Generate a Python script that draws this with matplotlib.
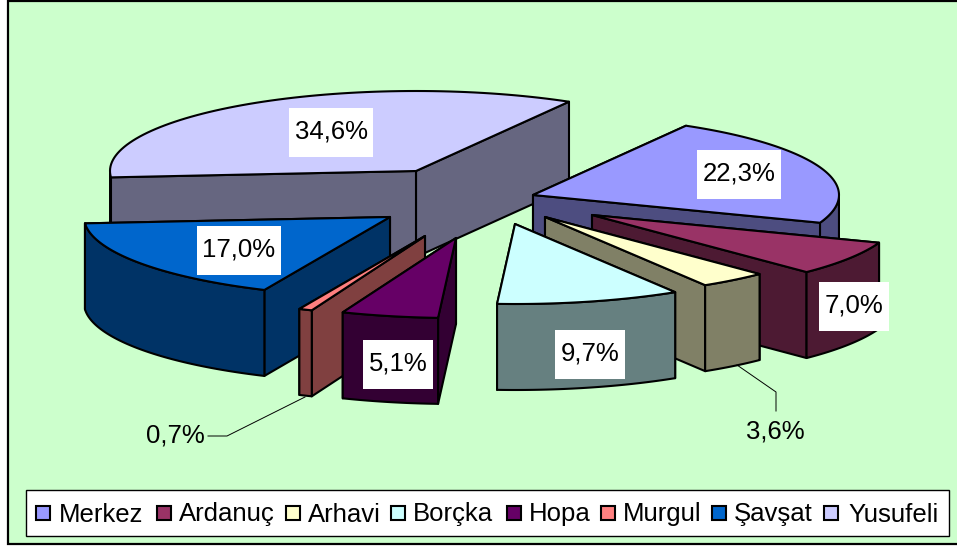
import numpy as np
import matplotlib
matplotlib.use("Agg")
import matplotlib.pyplot as plt
from matplotlib.patches import Polygon, Rectangle

# ---- data ----
categories = ["Merkez", "Ardanuç", "Arhavi", "Borçka", "Hopa", "Murgul", "Şavşat", "Yusufeli"]
values = [22.3, 7.0, 3.6, 9.7, 5.1, 0.7, 17.0, 34.6]
colors = ["#9999FF", "#993366", "#FFFFCC", "#CCFFFF", "#660066", "#FF8080", "#0066CC", "#CCCCFF"]

# ---- layout (pixels) ----
apexes = [(533, 195), (592, 215), (545, 217), (515, 224), (456, 238), (425, 236), (390, 217), (416, 171)]
label_pos = [(739, 174), (854, 306), (775, 431), (590, 354), (398, 364), (175, 435), (239, 250), (331, 132)]
boxed = [True, True, False, True, True, False, True, True]
draw_order = [7, 0, 1, 2, 3, 6, 5, 4]
RX, RY, H = 306, 80, 86
START = 60.0
LW = 1.5
legend_swatch_x = [36, 157, 286, 391, 507, 601, 712, 824]
legend_text_x = [59, 179, 308, 413, 529, 623, 734, 848]

plt.rcParams["font.family"] = ["Liberation Sans", "DejaVu Sans"]
fig = plt.figure(figsize=(9.57, 5.47), dpi=100, facecolor="white")
ax = fig.add_axes([0, 0, 1, 1])
ax.set_xlim(0, 957)
ax.set_ylim(547, 0)
ax.axis("off")

ax.add_patch(Rectangle((8, 0.5), 970, 543, fc="#CCFFCC", ec="black", lw=1.6, zorder=0))


def dark(c):
    r, g, b = matplotlib.colors.to_rgb(c)
    return (r * 0.5, g * 0.5, b * 0.5)


# angles run clockwise from START, in proportion to the values
edges = START - np.cumsum([0] + values) * 3.6
z = 1
for i in draw_order:
    cx, cy = apexes[i]
    a0, a1 = edges[i], edges[i + 1]
    pt = lambda a: (cx + RX * np.cos(np.radians(a)), cy - RY * np.sin(np.radians(a)))
    # radial walls, rearmost first
    for a in sorted([a0, a1], key=lambda v: -np.sin(np.radians(v))):
        x, y = pt(a)
        ax.add_patch(Polygon([(cx, cy), (x, y), (x, y + H), (cx, cy + H)], closed=True,
                             fc=dark(colors[i]), ec="black", lw=LW, joinstyle="round", zorder=z))
        z += 1
    # curved outer wall: only the front half of the rim shows
    ts = np.linspace(a0, a1, 80)
    front = ts[np.sin(np.radians(ts)) <= 0]
    if len(front) > 1:
        xs, ys = pt(front)
        poly = list(zip(xs, ys)) + list(zip(xs[::-1], ys[::-1] + H))
        ax.add_patch(Polygon(poly, closed=True, fc=dark(colors[i]), ec="black", lw=LW,
                             joinstyle="round", zorder=z))
        z += 1
    # top face
    xs, ys = pt(ts)
    ax.add_patch(Polygon([(cx, cy)] + list(zip(xs, ys)), closed=True, fc=colors[i], ec="black",
                         lw=LW, joinstyle="round", zorder=z))
    z += 1

# leader lines
ax.plot([208, 227, 305], [436, 436, 397], color="black", lw=0.7, zorder=z)
ax.plot([737, 776, 776], [365, 392, 411], color="black", lw=0.7, zorder=z)
z += 1

# data labels
renderer = fig.canvas.get_renderer()
for v, (x, y), b in zip(values, label_pos, boxed):
    s = f"{v:.1f}".replace(".", ",") + "%"
    t = ax.text(x, y - 2.5, s, fontsize=18.5, ha="center", va="center_baseline", color="black", zorder=z + 1)
    if b:
        w = t.get_window_extent(renderer).width + 11
        ax.add_patch(Rectangle((x - w / 2, y - 24.5), w, 49, fc="white", ec="none", zorder=z))

# legend
ax.add_patch(Rectangle((26, 490), 923, 46, fc="white", ec="black", lw=1.0, zorder=z))
for name, c, sx, tx in zip(categories, colors, legend_swatch_x, legend_text_x):
    ax.add_patch(Rectangle((sx, 506), 14, 14, fc=c, ec="black", lw=1.5, zorder=z + 1))
    ax.text(tx, 512, name, fontsize=18.5, ha="left", va="center_baseline", color="black", zorder=z + 1)

fig.savefig("out.png", dpi=100, facecolor="white")
